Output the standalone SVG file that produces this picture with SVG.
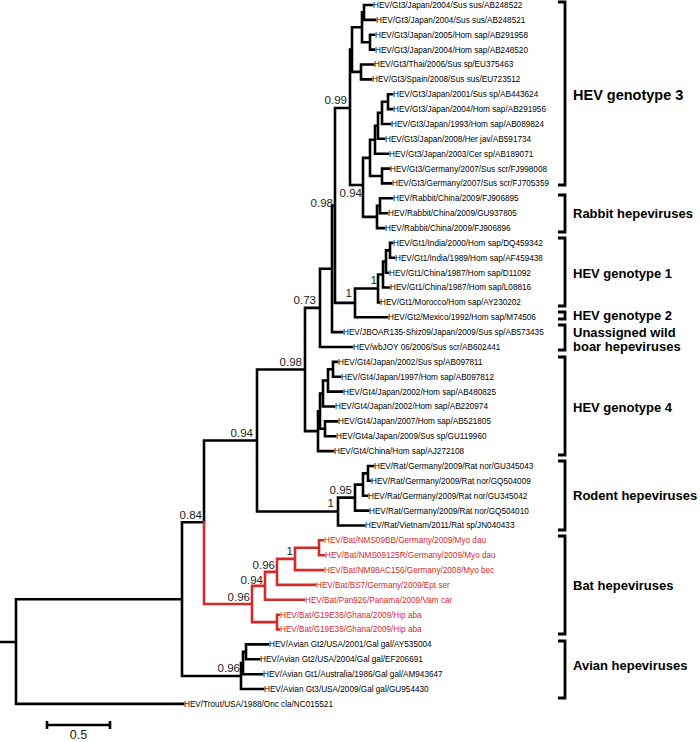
<svg xmlns="http://www.w3.org/2000/svg" width="700" height="742" viewBox="0 0 700 742">
<style>
.br{fill:none;stroke:#000;stroke-width:2.6;stroke-linecap:square}
.red{fill:none;stroke:#d42a2a;stroke-width:2.6;stroke-linecap:square}
.bk{fill:none;stroke:#000;stroke-width:2.8}
.lf{font-family:"Liberation Sans",Arial,sans-serif;font-size:8.2px;fill:#000}
.lr{font-family:"Liberation Sans",Arial,sans-serif;font-size:8.2px;fill:#d42a2a}
.sp{font-family:"Liberation Sans",Arial,sans-serif;font-size:11.5px;fill:#222;text-anchor:end}
.cl{font-family:"Liberation Sans",Arial,sans-serif;font-size:13px;font-weight:bold;fill:#000}
</style>
<rect width="700" height="742" fill="#fff"/>
<g id="connectors">
<path class="br" d="M0 642H16M16 599.2V703.9M16 599.2H182M16 703.9H183
M182 522.3V676M182 522.3H204M182 676H241
M204 440.5V522.3M204 440.5H257
M257 369.5V511.5M257 369.5H305M257 511.5H338
M305 307.9V431.1M305 307.9H320M305 431.1H318
M320 268.8V347M320 268.8H332M320 347H352
M332 205.5V332.1M332 205.5H335M332 332.1H342
M335 108V302.9M335 108H350M335 302.9H355
M350 49.6V185M350 49.6H352M350 185H363
M352 27.3V71.9M352 27.3H362M352 71.9H361
M362 12.4V42.2M362 12.4H364M362 42.2H370
M364 5V19.9M364 5H372M364 19.9H375
M370 34.7V49.6M370 34.7H374M370 49.6H374
M361 64.5V79.4M361 64.5H373M361 79.4H371
M363 157.9V216.9M363 157.9H370M363 216.9H377
M370 139.8V176M370 139.8H375M370 176H382
M375 125.8V153.7M375 125.8H378M375 153.7H388
M378 112.8V138.8M378 112.8H382M378 138.8H384
M382 101.7V124M382 101.7H388M382 124H390
M388 94.2V109.1M388 94.2H392M388 109.1H392
M382 168.6V183.4M382 168.6H389M382 183.4H391
M377 205.7V228.1M377 205.7H380M377 228.1H384
M380 198.3V213.2M380 198.3H392M380 213.2H387
M355 288.5V317.3M355 288.5H378M355 317.3H387
M378 274.5V302.4M378 274.5H383M378 302.4H379
M383 261.5V287.5M383 261.5H386M383 287.5H389
M386 250.4V272.7M386 250.4H390M386 272.7H388
M390 242.9V257.8M390 242.9H392M390 257.8H394
M318 411.2V451.1M318 411.2H320M318 451.1H333
M320 393.5V428.8M320 393.5H323M320 428.8H325
M323 380.5V406.5M323 380.5H328M323 406.5H334
M328 369.3V391.6M328 369.3H333M328 391.6H342
M333 361.9V376.8M333 361.9H337M333 376.8H340
M325 421.4V436.2M325 421.4H337M325 436.2H335
M338 497.6V525.5M338 497.6H355M338 525.5H364
M355 484.6V510.6M355 484.6H363M355 510.6H368
M363 473.4V495.7M363 473.4H368M363 495.7H367
M368 466V480.8M368 466H373M368 480.8H370
M241 663V689M241 663H243M241 689H263
M243 651.9V674.2M243 651.9H246M243 674.2H262
M246 644.4V659.3M246 644.4H268M246 659.3H259"/>
<path class="red" d="M204 522.3V604M204 604H252
M252 585.9V622.1M252 585.9H265M252 622.1H277
M265 571.9V599.8M265 571.9H277M265 599.8H304
M277 558.9V584.9M277 558.9H295M277 584.9H315
M295 547.8V570.1M295 547.8H319M295 570.1H323
M319 540.3V555.2M319 540.3H323M319 555.2H324
M277 614.7V629.5M277 614.7H279M277 629.5H279"/>
</g>
<g id="support">
<text class="sp" x="347" y="104">0.99</text>
<text class="sp" x="333" y="207">0.98</text>
<text class="sp" x="362" y="197">0.94</text>
<text class="sp" x="352" y="297">1</text>
<text class="sp" x="377" y="284">1</text>
<text class="sp" x="316" y="304">0.73</text>
<text class="sp" x="302" y="366">0.98</text>
<text class="sp" x="253" y="437">0.94</text>
<text class="sp" x="202" y="519">0.84</text>
<text class="sp" x="352" y="494">0.95</text>
<text class="sp" x="334" y="507">1</text>
<text class="sp" x="250" y="601">0.96</text>
<text class="sp" x="263" y="584">0.94</text>
<text class="sp" x="275" y="569">0.96</text>
<text class="sp" x="293" y="555">1</text>
<text class="sp" x="240" y="672">0.96</text>
</g>
<g id="leaves">
<text id="l1" class="lf" x="373" y="7.9">HEV/Gt3/Japan/2004/Sus sus/AB248522</text>
<text id="l2" class="lf" x="376" y="22.8">HEV/Gt3/Japan/2004/Sus sus/AB248521</text>
<text id="l3" class="lf" x="375" y="37.6">HEV/Gt3/Japan/2005/Hom sap/AB291958</text>
<text id="l4" class="lf" x="375" y="52.5">HEV/Gt3/Japan/2004/Hom sap/AB248520</text>
<text id="l5" class="lf" x="374" y="67.4">HEV/Gt3/Thai/2006/Sus sp/EU375463</text>
<text id="l6" class="lf" x="372" y="82.3">HEV/Gt3/Spain/2008/Sus sus/EU723512</text>
<text id="l7" class="lf" x="393" y="97.1">HEV/Gt3/Japan/2001/Sus sp/AB443624</text>
<text id="l8" class="lf" x="393" y="112">HEV/Gt3/Japan/2004/Hom sap/AB291956</text>
<text id="l9" class="lf" x="391" y="126.9">HEV/Gt3/Japan/1993/Hom sap/AB089824</text>
<text id="l10" class="lf" x="385" y="141.7">HEV/Gt3/Japan/2008/Her jav/AB591734</text>
<text id="l11" class="lf" x="389" y="156.6">HEV/Gt3/Japan/2003/Cer sp/AB189071</text>
<text id="l12" class="lf" x="390" y="171.5">HEV/Gt3/Germany/2007/Sus scr/FJ998008</text>
<text id="l13" class="lf" x="392" y="186.3">HEV/Gt3/Germany/2007/Sus scr/FJ705359</text>
<text id="l14" class="lf" x="393" y="201.2">HEV/Rabbit/China/2009/FJ906895</text>
<text id="l15" class="lf" x="388" y="216.1">HEV/Rabbit/China/2009/GU937805</text>
<text id="l16" class="lf" x="385" y="231">HEV/Rabbit/China/2009/FJ906896</text>
<text id="l17" class="lf" x="393" y="245.8">HEV/Gt1/India/2000/Hom sap/DQ459342</text>
<text id="l18" class="lf" x="395" y="260.7">HEV/Gt1/India/1989/Hom sap/AF459438</text>
<text id="l19" class="lf" x="389" y="275.6">HEV/Gt1/China/1987/Hom sap/D11092</text>
<text id="l20" class="lf" x="390" y="290.4">HEV/Gt1/China/1987/Hom sap/L08816</text>
<text id="l21" class="lf" x="380" y="305.3">HEV/Gt1/Morocco/Hom sap/AY230202</text>
<text id="l22" class="lf" x="388" y="320.2">HEV/Gt2/Mexico/1992/Hom sap/M74506</text>
<text id="l23" class="lf" x="343" y="335">HEV/JBOAR135-Shiz09/Japan/2009/Sus sp/AB573435</text>
<text id="l24" class="lf" x="353" y="349.9">HEV/wbJOY 06/2006/Sus scr/AB602441</text>
<text id="l25" class="lf" x="338" y="364.8">HEV/Gt4/Japan/2002/Sus sp/AB097811</text>
<text id="l26" class="lf" x="341" y="379.7">HEV/Gt4/Japan/1997/Hom sap/AB097812</text>
<text id="l27" class="lf" x="343" y="394.5">HEV/Gt4/Japan/2002/Hom sap/AB480825</text>
<text id="l28" class="lf" x="335" y="409.4">HEV/Gt4/Japan/2002/Hom sap/AB220974</text>
<text id="l29" class="lf" x="338" y="424.3">HEV/Gt4/Japan/2007/Hom sap/AB521805</text>
<text id="l30" class="lf" x="336" y="439.1">HEV/Gt4a/Japan/2009/Sus sp/GU119960</text>
<text id="l31" class="lf" x="334" y="454">HEV/Gt4/China/Hom sap/AJ272108</text>
<text id="l32" class="lf" x="374" y="468.9">HEV/Rat/Germany/2009/Rat nor/GU345043</text>
<text id="l33" class="lf" x="371" y="483.7">HEV/Rat/Germany/2009/Rat nor/GQ504009</text>
<text id="l34" class="lf" x="368" y="498.6">HEV/Rat/Germany/2009/Rat nor/GU345042</text>
<text id="l35" class="lf" x="369" y="513.5">HEV/Rat/Germany/2009/Rat nor/GQ504010</text>
<text id="l36" class="lf" x="365" y="528.4">HEV/Rat/Vietnam/2011/Rat sp/JN040433</text>
<text id="l37" class="lr" x="324" y="543.2">HEV/Bat/NMS09BB/Germany/2009/Myo dau</text>
<text id="l38" class="lr" x="325" y="558.1">HEV/Bat/NMS09125R/Germany/2009/Myo dau</text>
<text id="l39" class="lr" x="324" y="573">HEV/Bat/NM98AC156/Germany/2008/Myo bec</text>
<text id="l40" class="lr" x="316" y="587.8">HEV/Bat/BS7/Germany/2009/Ept ser</text>
<text id="l41" class="lr" x="305" y="602.7">HEV/Bat/Pan926/Panama/2009/Vam car</text>
<text id="l42" class="lr" x="280" y="617.6">HEV/Bat/G19E36/Ghana/2009/Hip aba</text>
<text id="l43" class="lr" x="280" y="632.4">HEV/Bat/G19E38/Ghana/2009/Hip aba</text>
<text id="l44" class="lf" x="269" y="647.3">HEV/Avian Gt2/USA/2001/Gal gal/AY535004</text>
<text id="l45" class="lf" x="260" y="662.2">HEV/Avian Gt2/USA/2004/Gal gal/EF206691</text>
<text id="l46" class="lf" x="263" y="677">HEV/Avian Gt1/Australia/1986/Gal gal/AM943647</text>
<text id="l47" class="lf" x="264" y="691.9">HEV/Avian Gt3/USA/2009/Gal gal/GU954430</text>
<text id="l48" class="lf" x="184" y="706.8">HEV/Trout/USA/1988/Onc cla/NC015521</text>
</g>
<g id="clades">
<path class="bk" d="M558 2H565V185H558M558 195H565V232H558M558 238H565V306H558M558 312H565V319H558M558 325H565V350H558M558 357H565V455H558M558 461H565V530H558M558 536H565V634H558M558 641H565V698H558"/>
<text class="cl" x="573" y="100" style="font-size:14.5px">HEV genotype 3</text>
<text class="cl" x="573" y="218">Rabbit hepeviruses</text>
<text class="cl" x="573" y="278">HEV genotype 1</text>
<text class="cl" x="573" y="320">HEV genotype 2</text>
<text class="cl" x="573" y="337">Unassigned wild</text>
<text class="cl" x="573" y="351">boar hepeviruses</text>
<text class="cl" x="573" y="412">HEV genotype 4</text>
<text class="cl" x="573" y="500">Rodent hepeviruses</text>
<text class="cl" x="573" y="590">Bat hepeviruses</text>
<text class="cl" x="573" y="670">Avian hepeviruses</text>
</g>
<g id="scale">
<path class="br" d="M47 725H110M47 721V729M110 721V729" style="stroke-linecap:butt"/>
<text x="78.5" y="739" style="font-family:'Liberation Sans',Arial,sans-serif;font-size:12.5px;text-anchor:middle;fill:#222">0.5</text>
</g>
</svg>
